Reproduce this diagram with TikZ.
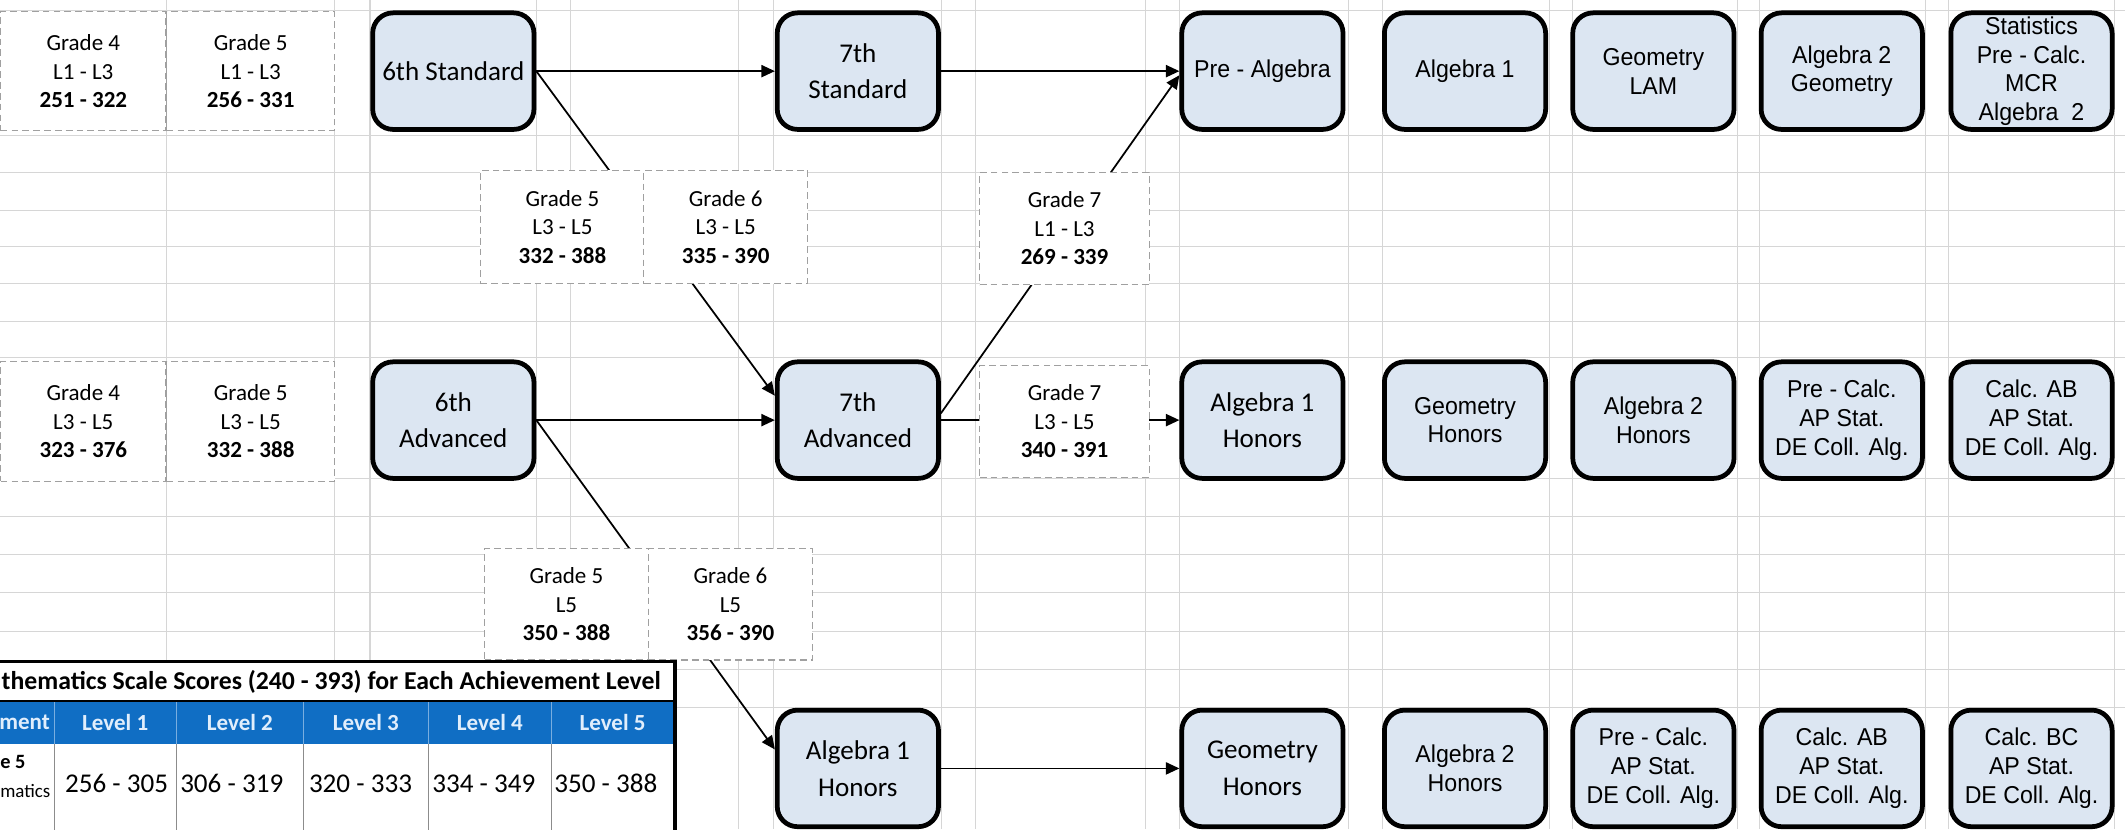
\documentclass[tikz,border=0pt]{standalone}
\usepackage{fontspec}
\setmainfont{Carlito}
\newfontfamily\narrowfont[FakeStretch=0.95]{Liberation Sans}
\usetikzlibrary{arrows.meta}

\definecolor{courseblue}{RGB}{220,230,242}
\definecolor{dashgray}{RGB}{160,160,160}
\definecolor{cellgray}{RGB}{214,214,214}
\definecolor{headblue}{RGB}{16,110,196}
\definecolor{headtext}{RGB}{225,238,252}

\pgfdeclarelayer{background}
\pgfsetlayers{background,main}

\begin{document}
\begin{tikzpicture}[
      x = 1pt, y = -1pt,
      course/.style = {
        rectangle, rounded corners = 15pt, draw = black, line width = 3.5pt,
        fill = courseblue, minimum width = 119pt, minimum height = 86pt,
        inner sep = 1pt, align = center, font = \fontsize{20}{27}\selectfont},
      narrow/.style = {font = \narrowfont\fontsize{18}{21.3}\selectfont},
      grade/.style = {
        rectangle, draw = dashgray, dash pattern = on 5pt off 3pt,
        line width = .8pt, fill = white, minimum width = 121pt,
        minimum height = 84pt, inner sep = 1pt, align = center,
        font = \fontsize{17}{21}\selectfont},
      link/.style = {line width = 1.3pt, -{Triangle[length = 10pt, width = 9pt]}},
      head/.style = {text = headtext, inner sep = 0pt,
        font = \bfseries\fontsize{17}{19}\selectfont},
      score/.style = {inner sep = 0pt, font = \fontsize{20}{22}\selectfont}
      ]
    \useasboundingbox (0,0) rectangle (1568,612);
    \clip (0,0) rectangle (1568,612);

    % standard track
    \node[course] (std6) at (334.5,52.5) {6th Standard};
    \node[course] (std7) at (633,52.5) {7th\\Standard};
    \node[course, narrow] (prealg) at (931.5,52.5) {Pre - Algebra};
    \node[course, narrow] (alga) at (1081,52.5) {Algebra 1};
    \node[course, narrow] (geolam) at (1220,52.5) {Geometry\\LAM};
    \node[course, narrow] (algbgeo) at (1359,52.5) {Algebra 2\\Geometry};
    \node[course, narrow] (stats) at (1499,52.5) {Statistics\\Pre - Calc.\\MCR\\Algebra\ \ 2};

    % advanced track
    \node[course] (adv6) at (334.5,310) {6th\\Advanced};
    \node[course] (adv7) at (633,310) {7th\\Advanced};
    \node[course] (alghon) at (931.5,310) {Algebra 1\\Honors};
    \node[course, narrow] (geohon) at (1081,310) {Geometry\\Honors};
    \node[course, narrow] (algbhon) at (1220,310) {Algebra 2\\Honors};
    \node[course, narrow] (precalc) at (1359,310) {Pre - Calc.\\AP Stat.\\DE Coll. Alg.};
    \node[course, narrow] (calcab) at (1499,310) {Calc. AB\\AP Stat.\\DE Coll. Alg.};

    % accelerated track
    \node[course] (alghonb) at (633,567) {Algebra 1\\Honors};
    \node[course] (geohonb) at (931.5,567) {Geometry\\Honors};
    \node[course, narrow] (algbhonb) at (1081,567) {Algebra 2\\Honors};
    \node[course, narrow] (precalcb) at (1220,567) {Pre - Calc.\\AP Stat.\\DE Coll. Alg.};
    \node[course, narrow] (calcabb) at (1359,567) {Calc. AB\\AP Stat.\\DE Coll. Alg.};
    \node[course, narrow] (calcbc) at (1499,567) {Calc. BC\\AP Stat.\\DE Coll. Alg.};

    % score ranges
    \node[grade, minimum width = 122pt, minimum height = 88pt] (gfourstd) at (61.5,52.5) {Grade 4\\L1 - L3\\\textbf{251 - 322}};
    \node[grade, minimum width = 124pt, minimum height = 88pt] (gfivestd) at (185,52.5) {Grade 5\\L1 - L3\\\textbf{256 - 331}};
    \node[grade] (gfivemid) at (415,167.5) {Grade 5\\L3 - L5\\\textbf{332 - 388}};
    \node[grade] (gsixmid) at (535.5,167.5) {Grade 6\\L3 - L5\\\textbf{335 - 390}};
    \node[grade, minimum width = 125pt, minimum height = 83pt] (gsevenmid) at (785.5,168.5) {Grade 7\\L1 - L3\\\textbf{269 - 339}};
    \node[grade, minimum width = 122pt, minimum height = 88pt] (gfouradv) at (61.5,311) {Grade 4\\L3 - L5\\\textbf{323 - 376}};
    \node[grade, minimum width = 124pt, minimum height = 88pt] (gfiveadv) at (185,311) {Grade 5\\L3 - L5\\\textbf{332 - 388}};
    \node[grade, minimum width = 125pt, minimum height = 82pt] (gsevenadv) at (785.5,311) {Grade 7\\L3 - L5\\\textbf{340 - 391}};
    \node[grade, minimum height = 82pt] (gfivelow) at (418,446) {Grade 5\\L5\\\textbf{350 - 388}};
    \node[grade, minimum height = 82pt] (gsixlow) at (539,446) {Grade 6\\L5\\\textbf{356 - 390}};

    \begin{pgfonlayer}{background}
      % sheet grid
      \foreach \gx in {123,247,273,396,421,545,571,695,720,845,870,995,1020,1143,1160,1282,1298,1421,1438,1560}
        \draw[cellgray, line width = .8pt] (\gx,0) -- (\gx,612);
      \foreach \gy in {8,100,127,155,182,209,237,264,353,381,409,437,466,494,522}
        \draw[cellgray, line width = .8pt] (0,\gy) -- (1568,\gy);
      \draw[link] (std6.east) -- (std7.west);
      \draw[link] (std7.east) -- (prealg.west);
      \draw[link] (std6.east) -- ([yshift = 18pt]adv7.west);
      \draw[link] (adv6.east) -- (adv7.west);
      \draw[link] ([yshift = 5pt]adv7.east) -- ([yshift = -3pt]prealg.west);
      \draw[link] (adv7.east) -- (alghon.west);
      \draw[link] (adv6.east) -- ([yshift = 14pt]alghonb.west);
      \draw[link] (alghonb.east) -- (geohonb.west);
    \end{pgfonlayer}

    % score table
    \fill[white] (-5,488) rectangle (498,620);
    \fill[headblue] (-5,517) rectangle (498,549);
    \foreach \cx in {40,130,224,316,407}
      \draw[headtext!50!headblue, line width = .8pt] (\cx,517) -- (\cx,549);
    \foreach \cx in {40,130,224,316,407}
      \draw[black!45, line width = .6pt] (\cx,549) -- (\cx,620);
    \draw[line width = 1.5pt] (-5,517) -- (498,517);
    \draw[line width = 2.5pt] (-5,488) rectangle (498,620);
    \node[anchor = west, inner sep = 0pt, font = \bfseries\fontsize{19}{21}\selectfont] (ttl) at (1,503) {thematics Scale Scores (240 - 393) for Each Achievement Level};
    \node[head, anchor = east] (hd0) at (37,533) {ment};
    \foreach \n/\cx in {1/85,2/177,3/270,4/361.5,5/452}
      \node[head] (hd\n) at (\cx,533) {Level \n};
    \node[anchor = west, inner sep = 0pt, font = \bfseries\fontsize{15}{17}\selectfont] (rwg) at (0,562) {e 5};
    \node[anchor = west, inner sep = 0pt, font = \fontsize{14}{16}\selectfont] (rwm) at (0,584) {matics};
    \foreach \n/\cx/\v in {1/86/256 - 305, 2/171/306 - 319, 3/266/320 - 333, 4/357/334 - 349, 5/447/350 - 388}
      \node[score] (sc\n) at (\cx,578) {\v};
  \end{tikzpicture}
\end{document}
